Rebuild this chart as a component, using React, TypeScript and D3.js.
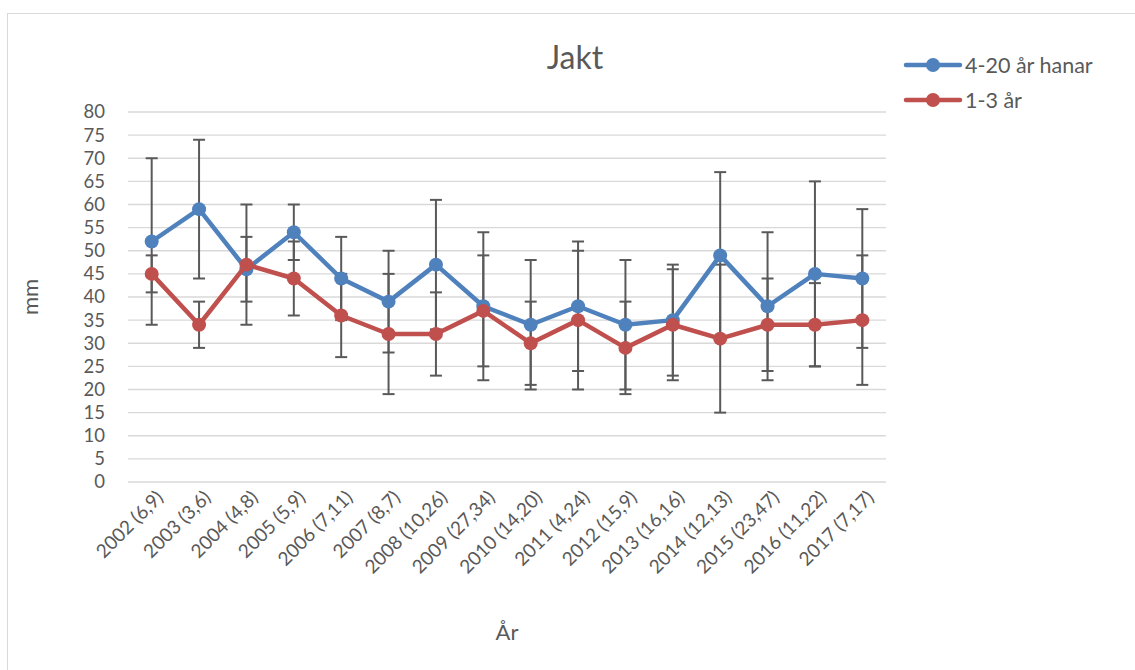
import React, { useRef, useEffect } from 'react';
import * as d3 from 'd3';

const categories = [
  '2002 (6,9)', '2003 (3,6)', '2004 (4,8)', '2005 (5,9)', '2006 (7,11)', '2007 (8,7)',
  '2008 (10,26)', '2009 (27,34)', '2010 (14,20)', '2011 (4,24)', '2012 (15,9)',
  '2013 (16,16)', '2014 (12,13)', '2015 (23,47)', '2016 (11,22)', '2017 (7,17)',
];

// 4-20 år hanar
const maleValues = [52, 59, 46, 54, 44, 39, 47, 38, 34, 38, 34, 35, 49, 38, 45, 44];
const maleLow = [34, 44, 34, 48, 35, 28, 33, 22, 20, 24, 20, 23, 31, 22, 25, 29];
const maleHigh = [70, 74, 60, 60, 53, 50, 61, 54, 48, 52, 48, 47, 67, 54, 65, 59];

// 1-3 år
const youngValues = [45, 34, 47, 44, 36, 32, 32, 37, 30, 35, 29, 34, 31, 34, 34, 35];
const youngLow = [41, 29, 39, 36, 27, 19, 23, 25, 21, 20, 19, 22, 15, 24, 25, 21];
const youngHigh = [49, 39, 53, 52, 45, 45, 41, 49, 39, 50, 39, 46, 47, 44, 43, 49];

const yTicks = d3.range(0, 85, 5);

const series = [
  { name: '4-20 år hanar', color: '#4F81BD', values: maleValues, low: maleLow, high: maleHigh },
  { name: '1-3 år', color: '#C0504D', values: youngValues, low: youngLow, high: youngHigh },
];

const FONT = 'Lato, "Liberation Sans", sans-serif';
const TEXT = '#595959';

const App: React.FC = () => {
  const ref = useRef<SVGSVGElement>(null);

  useEffect(() => {
    if (!ref.current) return;
    const svg = d3.select(ref.current);
    svg.selectAll('*').remove();

    const width = 1135;
    const height = 670;
    const plot = { left: 128, right: 886, top: 112, bottom: 482 };

    svg.append('rect')
      .attr('width', width).attr('height', height).attr('fill', '#fff');
    svg.append('rect')
      .attr('x', 7.5).attr('y', 13.5)
      .attr('width', width + 10).attr('height', height + 10)
      .attr('fill', 'none').attr('stroke', '#d9d9d9').attr('stroke-width', 1);

    const x = d3.scaleBand<string>()
      .domain(categories)
      .range([plot.left, plot.right]);
    const cx = (c: string) => (x(c) as number) + x.bandwidth() / 2;

    const y = d3.scaleLinear().domain([0, 80]).range([plot.bottom, plot.top]);

    // gridlines
    svg.append('g')
      .selectAll('line')
      .data(yTicks)
      .enter()
      .append('line')
      .attr('x1', plot.left).attr('x2', plot.right)
      .attr('y1', d => y(d)).attr('y2', d => y(d))
      .attr('stroke', '#d9d9d9').attr('stroke-width', 1.3);

    // y tick labels
    svg.append('g')
      .selectAll('text')
      .data(yTicks)
      .enter()
      .append('text')
      .attr('x', 105).attr('y', d => y(d))
      .attr('dy', '0.35em')
      .attr('text-anchor', 'end')
      .attr('font-family', FONT).attr('font-size', 18.5).attr('fill', TEXT)
      .text(d => d);

    // x tick labels
    svg.append('g')
      .selectAll('text')
      .data(categories)
      .enter()
      .append('text')
      .attr('transform', d => `translate(${cx(d) + 8},${plot.bottom + 12}) rotate(-45)`)
      .attr('text-anchor', 'end')
      .attr('dy', '0.35em')
      .attr('font-family', FONT).attr('font-size', 19).attr('fill', TEXT)
      .text(d => d);

    // error bars
    const capW = 6;
    series.forEach(s => {
      const g = svg.append('g').attr('stroke', '#595959').attr('stroke-width', 2);
      categories.forEach((c, i) => {
        const px = cx(c);
        g.append('line')
          .attr('x1', px).attr('x2', px)
          .attr('y1', y(s.low[i])).attr('y2', y(s.high[i]));
        [s.low[i], s.high[i]].forEach(v => {
          g.append('line')
            .attr('x1', px - capW).attr('x2', px + capW)
            .attr('y1', y(v)).attr('y2', y(v));
        });
      });
    });

    // lines + markers
    const line = d3.line<number>()
      .x((_, i) => cx(categories[i]))
      .y(d => y(d));

    series.forEach(s => {
      svg.append('path')
        .datum(s.values)
        .attr('fill', 'none')
        .attr('stroke', s.color)
        .attr('stroke-width', 4.5)
        .attr('stroke-linejoin', 'round')
        .attr('d', line);
      svg.append('g')
        .selectAll('circle')
        .data(s.values)
        .enter()
        .append('circle')
        .attr('cx', (_, i) => cx(categories[i]))
        .attr('cy', d => y(d))
        .attr('r', 7)
        .attr('fill', s.color);
    });

    // title
    svg.append('text')
      .attr('x', 575).attr('y', 69)
      .attr('text-anchor', 'middle')
      .attr('font-family', FONT).attr('font-size', 32).attr('fill', TEXT)
      .text('Jakt');

    // axis titles
    svg.append('text')
      .attr('transform', `translate(38,${(plot.top + plot.bottom) / 2}) rotate(-90)`)
      .attr('text-anchor', 'middle')
      .attr('font-family', FONT).attr('font-size', 22).attr('fill', TEXT)
      .text('mm');
    svg.append('text')
      .attr('x', 507).attr('y', 640)
      .attr('text-anchor', 'middle')
      .attr('font-family', FONT).attr('font-size', 22).attr('fill', TEXT)
      .text('År');

    // legend
    series.forEach((s, i) => {
      const ly = 65 + i * 35;
      const lg = svg.append('g');
      lg.append('line')
        .attr('x1', 906).attr('x2', 960)
        .attr('y1', ly).attr('y2', ly)
        .attr('stroke', s.color).attr('stroke-width', 4.5)
        .attr('stroke-linecap', 'round');
      lg.append('circle')
        .attr('cx', 933).attr('cy', ly).attr('r', 7).attr('fill', s.color);
      lg.append('text')
        .attr('x', 965).attr('y', ly)
        .attr('dy', '0.35em')
        .attr('font-family', FONT).attr('font-size', 21.5).attr('fill', TEXT)
        .text(s.name);
    });
  }, []);

  return (
    <svg
      ref={ref}
      width={1135}
      height={670}
      viewBox="0 0 1135 670"
      style={{ display: 'block', position: 'absolute', left: 0, top: 0 }}
    />
  );
};

export default App;
